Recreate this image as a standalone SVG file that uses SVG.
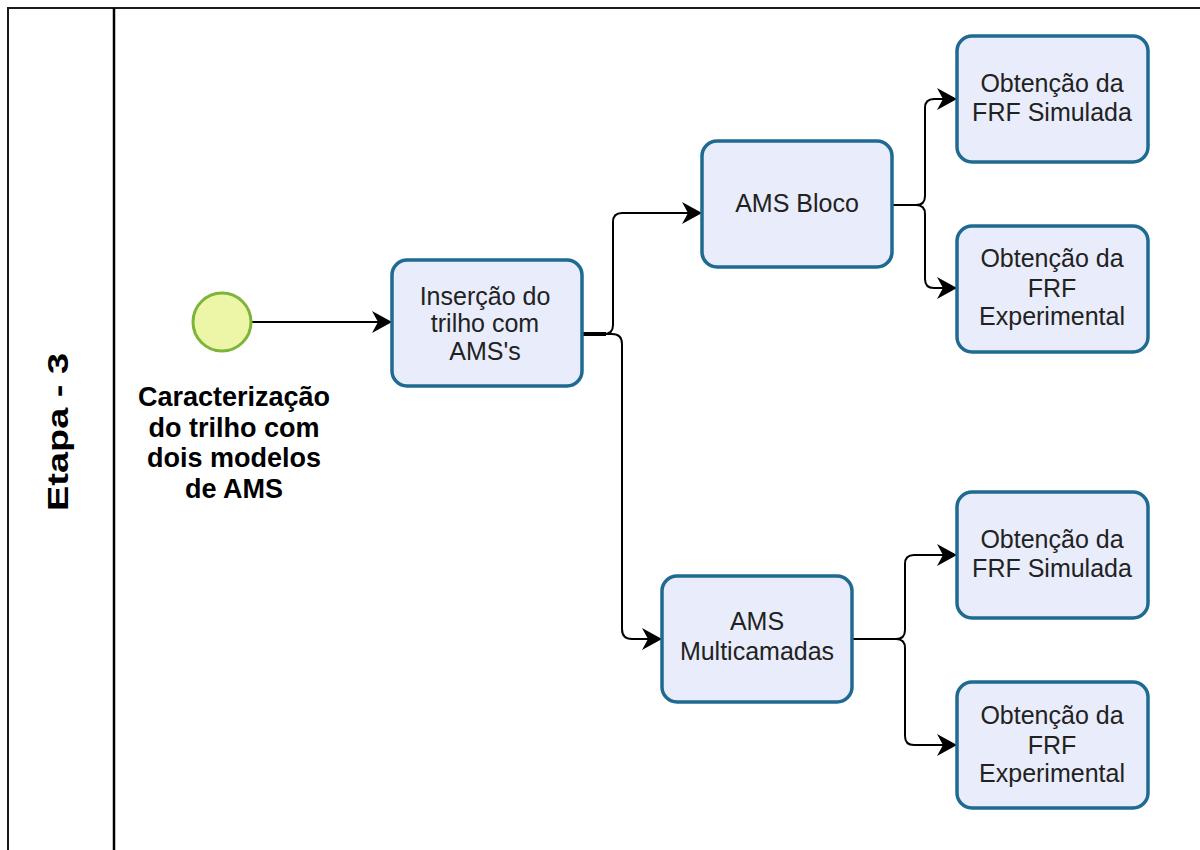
<svg xmlns="http://www.w3.org/2000/svg" width="1200" height="850" viewBox="0 0 1200 850">
<defs>
<style>
.frame{fill:none;stroke:#1a1a1a;stroke-width:2}
.div{fill:none;stroke:#000;stroke-width:2.5}
.box{fill:#e9ecfb;stroke:#1f6a90;stroke-width:3.5}
.t{font-family:"Liberation Sans",Arial,sans-serif;font-size:25px;fill:#222;text-anchor:middle}
.lbl{font-family:"Liberation Sans",Arial,sans-serif;font-size:27px;font-weight:bold;fill:#000;text-anchor:middle}
.lane{font-family:"Liberation Sans",Arial,sans-serif;font-size:29px;font-weight:bold;fill:#000}
.c{fill:none;stroke:#000;stroke-width:2}
</style>
<marker id="arr" viewBox="0 0 20 22" refX="19" refY="11" markerWidth="20" markerHeight="22" markerUnits="userSpaceOnUse" orient="auto">
<path d="M0,0 L20,11 L0,22 L6,11 z" fill="#000"/>
</marker>
</defs>
<rect width="1200" height="850" fill="#fff"/>
<g id="pool">
<rect class="frame" x="8" y="8" width="1210" height="860"/>
<line class="div" x1="114" y1="8" x2="114" y2="850"/>
<text class="lane" transform="translate(68,511) rotate(-90)" textLength="158" lengthAdjust="spacingAndGlyphs">Etapa - 3</text>
</g>
<g id="connectors">
<path class="c" d="M252,322 H391" marker-end="url(#arr)"/>
<path class="c" d="M582,334 H604 Q613,334 613,325 V222 Q613,213 622,213 H701" marker-end="url(#arr)"/>
<path class="c" d="M582,334 H612 Q622,334 622,344 V629 Q622,639 632,639 H661" marker-end="url(#arr)"/>
<path class="c" d="M893,205 H916 Q925,205 925,196 V108 Q925,99 934,99 H956" marker-end="url(#arr)"/>
<path class="c" d="M893,205 H916 Q925,205 925,214 V279 Q925,288 934,288 H956" marker-end="url(#arr)"/>
<path class="c" d="M853,639 H896 Q905,639 905,630 V564 Q905,555 914,555 H956" marker-end="url(#arr)"/>
<path class="c" d="M853,639 H896 Q905,639 905,648 V736 Q905,745 914,745 H956" marker-end="url(#arr)"/>
<line x1="582" y1="334" x2="606" y2="334" stroke="#000" stroke-width="4"/>
</g>
<g id="start">
<circle cx="222" cy="322" r="29" fill="#edf5a6" stroke="#7db43c" stroke-width="3"/>
<text class="lbl" x="234" y="406">Caracterização</text>
<text class="lbl" x="234" y="437">do trilho com</text>
<text class="lbl" x="234" y="467">dois modelos</text>
<text class="lbl" x="234" y="498">de AMS</text>
</g>
<g id="insercao">
<rect class="box" x="392" y="260" width="190" height="126" rx="15"/>
<text class="t" x="485" y="305">Inserção do</text>
<text class="t" x="485" y="332">trilho com</text>
<text class="t" x="485" y="360">AMS's</text>
</g>
<g id="ams-bloco">
<rect class="box" x="702" y="141" width="190" height="126" rx="15"/>
<text class="t" x="797" y="212">AMS Bloco</text>
</g>
<g id="ams-multi">
<rect class="box" x="662" y="576" width="190" height="126" rx="15"/>
<text class="t" x="757" y="630">AMS</text>
<text class="t" x="757" y="660">Multicamadas</text>
</g>
<g id="sim1">
<rect class="box" x="957" y="36" width="191" height="126" rx="15"/>
<text class="t" x="1052" y="92">Obtenção da</text>
<text class="t" x="1052" y="121">FRF Simulada</text>
</g>
<g id="exp1">
<rect class="box" x="957" y="226" width="191" height="126" rx="15"/>
<text class="t" x="1052" y="267">Obtenção da</text>
<text class="t" x="1052" y="297">FRF</text>
<text class="t" x="1052" y="325">Experimental</text>
</g>
<g id="sim2">
<rect class="box" x="957" y="492" width="191" height="126" rx="15"/>
<text class="t" x="1052" y="548">Obtenção da</text>
<text class="t" x="1052" y="577">FRF Simulada</text>
</g>
<g id="exp2">
<rect class="box" x="957" y="682" width="191" height="126" rx="15"/>
<text class="t" x="1052" y="724">Obtenção da</text>
<text class="t" x="1052" y="754">FRF</text>
<text class="t" x="1052" y="782">Experimental</text>
</g>
</svg>
